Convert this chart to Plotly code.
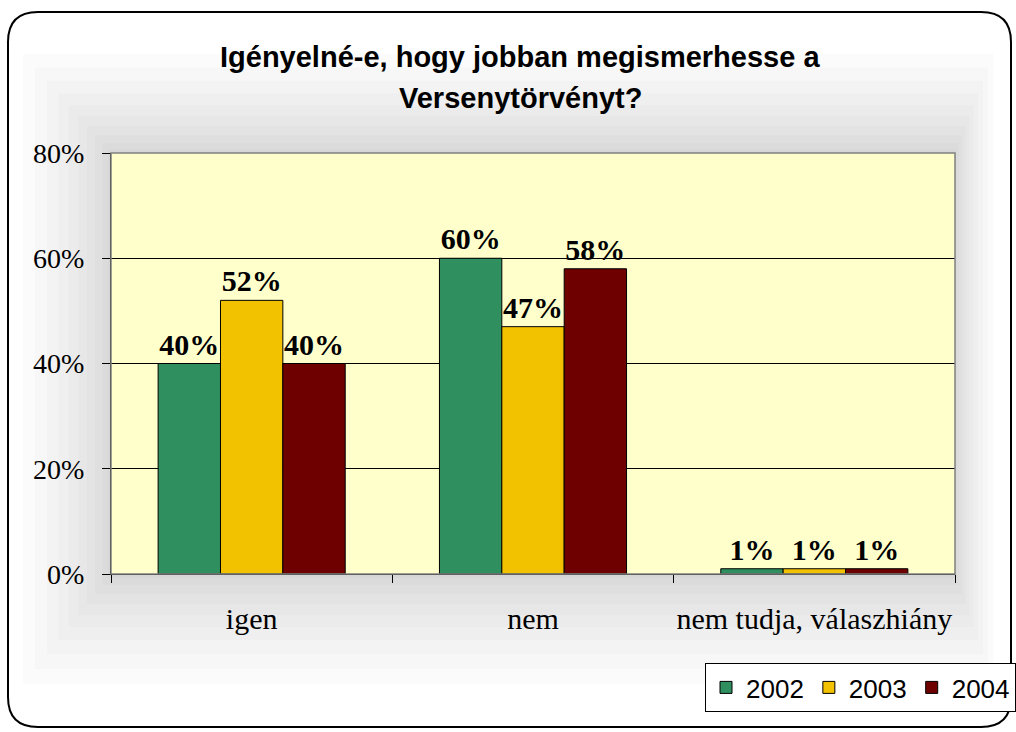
import plotly.graph_objects as go

categories = ["igen", "nem", "nem tudja, válaszhiány"]
years = ["2002", "2003", "2004"]
values_2002 = [0.40, 0.60, 0.01]
values_2003 = [0.52, 0.47, 0.01]
values_2004 = [0.40, 0.58, 0.01]
series_values = [values_2002, values_2003, values_2004]
colors = ["#2f8f5f", "#f2c200", "#6e0000"]
y_ticks = [0, 0.2, 0.4, 0.6, 0.8]
y_tick_labels = ["0%", "20%", "40%", "60%", "80%"]
title_lines = ["Igényelné-e, hogy jobban megismerhesse a", "Versenytörvényt?"]

W, H = 1016, 732
# plot area in page pixels
L, R, T, B = 111, 955, 153, 574

fig = go.Figure()
for yr, vals, col in zip(years, series_values, colors):
    fig.add_trace(go.Bar(
        x=categories, y=vals, name=yr,
        marker=dict(color=col, line=dict(color="black", width=1)),
        text=[f"{v:.0%}" for v in vals],
        textposition="outside",
        textfont=dict(family="Liberation Serif", size=30, color="black", weight="bold"),
        constraintext="none",
        cliponaxis=False,
    ))

def px2x(px):
    return (px - L) / (R - L)

def py2y(py):
    return (B - py) / (B - T)

# rounded outer border in paper coords
x0, x1, y0, y1, r = 8, 1011, 12, 727, 30
path = (
    f"M {px2x(x0+r)},{py2y(y0)} L {px2x(x1-r)},{py2y(y0)} "
    f"Q {px2x(x1)},{py2y(y0)} {px2x(x1)},{py2y(y0+r)} "
    f"L {px2x(x1)},{py2y(y1-r)} Q {px2x(x1)},{py2y(y1)} {px2x(x1-r)},{py2y(y1)} "
    f"L {px2x(x0+r)},{py2y(y1)} Q {px2x(x0)},{py2y(y1)} {px2x(x0)},{py2y(y1-r)} "
    f"L {px2x(x0)},{py2y(y0+r)} Q {px2x(x0)},{py2y(y0)} {px2x(x0+r)},{py2y(y0)} Z"
)

shapes = [
    dict(type="path", path=path, xref="paper", yref="paper",
         line=dict(color="black", width=2), layer="below"),
]
# soft shadow around plot area
for e in [110, 95, 80, 66, 53, 41, 30, 20, 11, 4]:
    shapes.append(dict(type="rect", xref="paper", yref="paper",
                       x0=px2x(L - e * 0.8), x1=px2x(R + e * 0.35),
                       y0=py2y(B + e * 1.0), y1=py2y(T - e * 0.9),
                       fillcolor="rgba(0,0,0,0.014)", line=dict(width=0), layer="below"))
# opaque plot background over the shadow
shapes.append(dict(type="rect", xref="paper", yref="paper", x0=0, x1=1, y0=0, y1=1,
                   fillcolor="#ffffcc", line=dict(width=0), layer="below"))
shapes.append(dict(type="rect", xref="paper", yref="paper", x0=0, x1=1, y0=0, y1=1,
                   line=dict(color="#808080", width=1.5), layer="above"))

annotations = [
    dict(text=f"<b>{title_lines[0]}</b>", xref="paper", yref="paper",
         x=px2x(520), y=py2y(57), xanchor="center", yanchor="middle", showarrow=False,
         font=dict(family="Liberation Sans", size=29, color="black")),
    dict(text=f"<b>{title_lines[1]}</b>", xref="paper", yref="paper",
         x=px2x(520), y=py2y(98), xanchor="center", yanchor="middle", showarrow=False,
         font=dict(family="Liberation Sans", size=29, color="black")),
]

fig.update_layout(
    width=W, height=H, autosize=False,
    margin=dict(l=L, r=W - R, t=T, b=H - B, pad=0),
    paper_bgcolor="white",
    plot_bgcolor="#ffffcc",
    barmode="group",
    bargap=0.335,
    bargroupgap=0,
    showlegend=True,
    legend=dict(
        orientation="h",
        xref="container", yref="container",
        x=1.0, y=1 - 663 / H, xanchor="right", yanchor="top",
        bgcolor="white", bordercolor="black", borderwidth=1,
        font=dict(family="Liberation Sans", size=26, color="black"),
        itemwidth=30, tracegroupgap=0,
    ),
    shapes=shapes,
    annotations=annotations,
    xaxis=dict(
        type="category",
        tickson="boundaries",
        ticks="outside", ticklen=8, tickcolor="black", tickwidth=1,
        showline=True, linecolor="black", linewidth=1,
        showgrid=False,
        tickfont=dict(family="Liberation Serif", size=30, color="black"),
        tickangle=0,
        ticklabelstandoff=18,
    ),
    yaxis=dict(
        range=[0, 0.8],
        tickvals=y_ticks, ticktext=y_tick_labels,
        ticks="outside", ticklen=8, tickcolor="black", tickwidth=1,
        showline=True, linecolor="black", linewidth=1,
        showgrid=True, gridcolor="black", gridwidth=1,
        zeroline=False,
        tickfont=dict(family="Liberation Serif", size=28, color="black"),
        ticklabelstandoff=12,
    ),
)

fig.write_html(
    "out.html",
    config={"displayModeBar": False, "responsive": False},
    post_script="document.body.style.margin='0px';document.body.style.overflow='hidden';",
)
